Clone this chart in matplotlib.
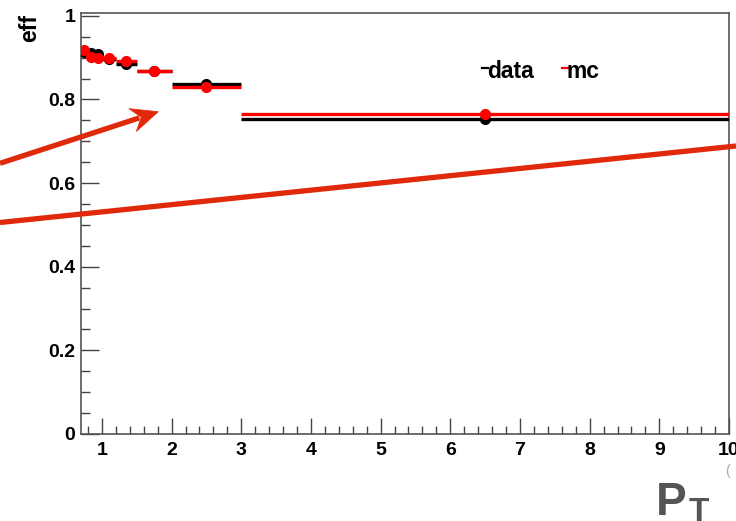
import numpy as np
import matplotlib
matplotlib.use("Agg")
import matplotlib.pyplot as plt
from matplotlib.lines import Line2D
from matplotlib.patches import Polygon
from matplotlib.ticker import MultipleLocator, FuncFormatter

plt.rcParams['font.family'] = ['Liberation Sans', 'DejaVu Sans']
plt.rcParams['font.weight'] = 'bold'

# pT bins and efficiencies
pt_edges = [0.7, 0.8, 0.9, 1.0, 1.2, 1.5, 2.0, 3.0, 10.0]
eff_data = [0.914, 0.910, 0.908, 0.897, 0.886, 0.869, 0.836, 0.753]
eff_mc = [0.918, 0.902, 0.899, 0.898, 0.893, 0.869, 0.831, 0.765]
err_data = [0.004, 0.004, 0.004, 0.003, 0.004, 0.003, 0.004, 0.010]
err_mc = [0.004, 0.004, 0.004, 0.003, 0.004, 0.003, 0.004, 0.012]

W, H = 736, 521
fig = plt.figure(figsize=(W / 100, H / 100), dpi=100)
ax = fig.add_axes([81 / W, 1 - 434 / H, (729 - 81) / W, (434 - 12.5) / H])

edges = np.array(pt_edges)
centers = 0.5 * (edges[1:] + edges[:-1])
halfw = 0.5 * (edges[1:] - edges[:-1])

ax.errorbar(centers, eff_data, xerr=halfw, yerr=err_data, fmt='o', color='black',
            ms=7, lw=2.4, capsize=0, zorder=3)
ax.errorbar(centers, eff_mc, xerr=halfw, yerr=err_mc, fmt='o', color='red',
            ms=7, lw=2.4, capsize=0, zorder=4)

ax.set_xlim(0.7, 10)
ax.set_ylim(0, 1.008)
ax.xaxis.set_major_locator(MultipleLocator(1))
ax.xaxis.set_minor_locator(MultipleLocator(0.2))
ax.yaxis.set_major_locator(MultipleLocator(0.2))
ax.yaxis.set_minor_locator(MultipleLocator(0.05))
ax.yaxis.set_major_formatter(FuncFormatter(lambda v, p: f"{v:g}"))
ax.tick_params(axis='x', which='major', direction='in', length=11.5, width=1,
               color='#444444', labelsize=14, pad=6)
ax.tick_params(axis='x', which='minor', direction='in', length=5.8, width=1, color='#444444')
ax.tick_params(axis='y', which='major', direction='in', length=13, width=1,
               color='#444444', labelsize=14, pad=4)
ax.tick_params(axis='y', which='minor', direction='in', length=6.5, width=1, color='#444444')
for s in ax.spines.values():
    s.set_color('#555555')
    s.set_linewidth(1.2)

def fx(x):
    return x / W

def fy(y):
    return 1 - y / H

# axis titles
fig.text(fx(30), fy(14), 'eff', rotation=90, ha='center', va='top', fontsize=16.5)
fig.text(fx(656), fy(515), 'P', fontsize=33, color='#555555', ha='left', va='baseline')
fig.text(fx(689), fy(521), 'T', fontsize=24, color='#555555', ha='left', va='baseline')
fig.text(fx(727), fy(471), '(', fontsize=10, color='#aaaaaa', ha='center', va='center',
         fontweight='normal')

# legend entries
for x0, col, label in [(482, 'black', 'data'), (562, 'red', 'mc')]:
    fig.add_artist(Line2D([fx(x0), fx(x0 + 6)], [fy(68), fy(68)], color=col, lw=1.6))
    fig.text(fx(x0 + 5), fy(78), label, fontsize=16.5, ha='left', va='baseline')

# red arrows drawn over the pad
arrow_col = '#e0280a'
tail = np.array([0.0, 163.3])
tip = np.array([158.3, 111.7])
u = (tip - tail) / np.linalg.norm(tip - tail)
n = np.array([-u[1], u[0]])
notch = tip - 18 * u
back1 = tip - 27 * u + 12 * n
back2 = tip - 27 * u - 12 * n
fig.add_artist(Line2D([fx(tail[0]), fx(notch[0] - 2 * u[0])],
                      [fy(tail[1]), fy(notch[1] - 2 * u[1])],
                      color=arrow_col, lw=3.8, solid_capstyle='butt'))
head = [[fx(p[0]), fy(p[1])] for p in (tip, back1, notch, back2)]
fig.add_artist(Polygon(head, closed=True, facecolor=arrow_col, edgecolor=arrow_col,
                       lw=0.5, transform=fig.transFigure))
fig.add_artist(Line2D([fx(0), fx(736)], [fy(222.5), fy(146)], color=arrow_col, lw=3.8,
                      solid_capstyle='butt'))

fig.savefig('out.png', dpi=100)
